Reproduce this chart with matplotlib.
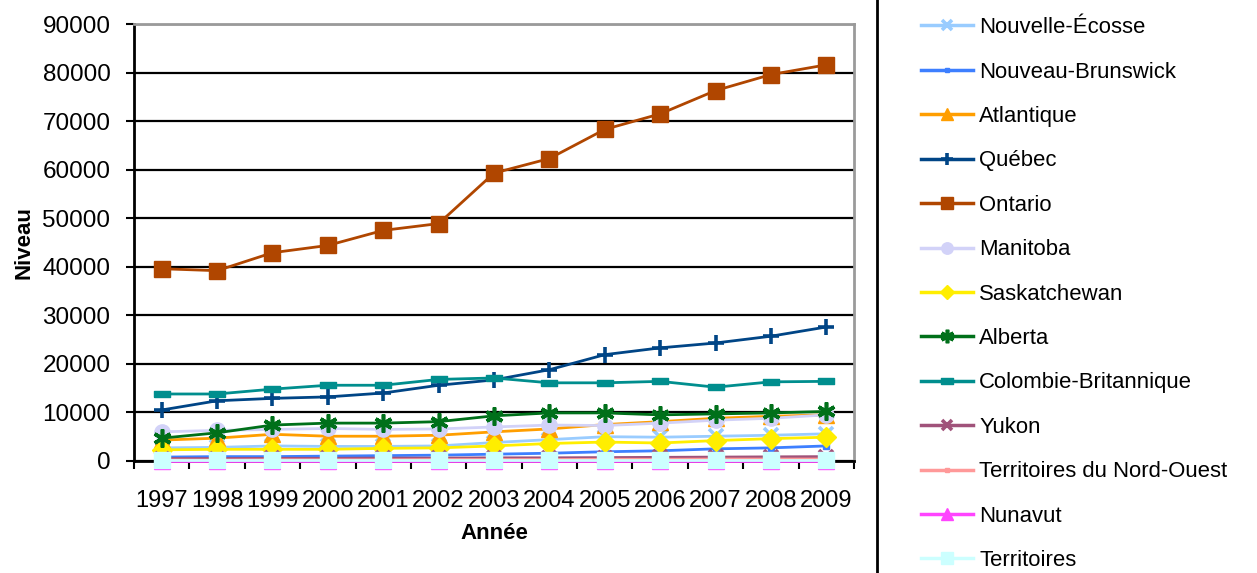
import numpy as np
import matplotlib.pyplot as plt
from matplotlib.lines import Line2D

plt.rcParams['font.family'] = ['Liberation Sans', 'DejaVu Sans']

years = ['1997', '1998', '1999', '2000', '2001', '2002', '2003',
         '2004', '2005', '2006', '2007', '2008', '2009']

nouvelle_ecosse = [2700, 2800, 3100, 3000, 3000, 3100, 3800, 4400, 5000, 4900, 5100, 5300, 5600]
nouveau_brunswick = [800, 900, 900, 1000, 1100, 1200, 1400, 1600, 1900, 2100, 2500, 2700, 3100]
atlantique = [4300, 4700, 5500, 5100, 5100, 5300, 6000, 6600, 7500, 8100, 8800, 9200, 9500]
quebec = [10500, 12400, 12900, 13200, 14000, 15600, 16700, 18800, 21900, 23300, 24300, 25700, 27600]
ontario = [39600, 39200, 42900, 44400, 47500, 48900, 59300, 62300, 68300, 71500, 76300, 79600, 81600]
manitoba = [6000, 6300, 6500, 6700, 6500, 6600, 7000, 7400, 7300, 7800, 8400, 8800, 9500]
saskatchewan = [2300, 2400, 2400, 2400, 2600, 2700, 3100, 3600, 3900, 3700, 4200, 4600, 4900]
alberta = [4700, 5800, 7400, 7800, 7800, 8100, 9300, 9900, 9900, 9500, 9700, 9900, 10200]
colombie_britannique = [13800, 13800, 14800, 15600, 15600, 16800, 17100, 16100, 16100, 16400, 15200, 16300, 16400]
yukon = [500, 500, 550, 550, 600, 600, 650, 650, 700, 750, 800, 850, 900]
tno = [200, 200, 250, 250, 250, 300, 300, 300, 350, 350, 400, 400, 400]
nunavut = [50, 50, 50, 50, 50, 50, 50, 50, 50, 50, 50, 50, 50]
territoires = [200, 200, 200, 200, 200, 200, 200, 200, 200, 200, 200, 200, 200]

# horizontal bar marker for Colombie-Britannique
bar_marker = [(-1, -0.45), (1, -0.45), (1, 0.45), (-1, 0.45), (-1, -0.45)]

series = [
    ('Nouvelle-Écosse', nouvelle_ecosse, '#99ccff', 'x', 10),
    ('Nouveau-Brunswick', nouveau_brunswick, '#3d7fff', 's', 4),
    ('Atlantique', atlantique, '#ff9e00', '^', 11),
    ('Québec', quebec, '#004586', '+', 12),
    ('Ontario', ontario, '#b04600', 's', 11),
    ('Manitoba', manitoba, '#d2d2f8', 'o', 11),
    ('Saskatchewan', saskatchewan, '#ffee00', 'D', 10),
    ('Alberta', alberta, '#00701a', (6, 2, 0), 13),
    ('Colombie-Britannique', colombie_britannique, '#008e8e', bar_marker, 11),
    ('Yukon', yukon, '#a0527a', 'x', 10),
    ('Territoires du Nord-Ouest', tno, '#ff9999', 's', 4),
    ('Nunavut', nunavut, '#ff44ff', '^', 11),
    ('Territoires', territoires, '#ccffff', 's', 12),
]

fig = plt.figure(figsize=(12.57, 5.73), dpi=100)
ax = fig.add_axes([0.1066, 0.1955, 0.5728, 0.7625])

x = np.arange(len(years))
handles = []
for name, vals, color, marker, ms in series:
    mew = 2.6 if marker in ('x', '+') or isinstance(marker, tuple) else 1
    ax.plot(x, vals, color=color, lw=2, marker=marker, ms=ms,
            mfc=color, mec=color, mew=mew, clip_on=False, zorder=3)
    handles.append(Line2D([], [], color=color, lw=2.5, marker=marker,
                          ms=ms * 0.75, mfc=color, mec=color, mew=mew))

ax.set_xlim(-0.5, len(years) - 0.5)
ax.set_ylim(0, 90000)
ax.set_yticks(np.arange(0, 90001, 10000))
ax.set_xticks(x)
ax.set_xticklabels(years)
ax.set_xticks(np.arange(-0.5, len(years)), minor=True)
ax.tick_params(axis='x', which='major', length=0, pad=21, labelsize=17)
ax.tick_params(axis='x', which='minor', length=6, width=1.5, direction='out')
ax.tick_params(axis='y', length=6, width=1.5, pad=11, labelsize=17.5)

ax.yaxis.grid(True, color='black', lw=1.6)
ax.set_axisbelow(True)
for side in ('left', 'bottom'):
    ax.spines[side].set_color('black')
    ax.spines[side].set_linewidth(2)
for side in ('top', 'right'):
    ax.spines[side].set_color('#9a9a9a')
    ax.spines[side].set_linewidth(2)

ax.set_ylabel('Niveau', fontsize=16, fontweight='bold', va='center')
ax.yaxis.set_label_coords(-0.153, 0.5)
ax.set_xlabel('Année', fontsize=16, fontweight='bold', va='center')
ax.xaxis.set_label_coords(0.5, -0.166)

# legend panel with its left border
fig.add_artist(Line2D([877 / 1257, 877 / 1257], [0, 1], color='black', lw=2,
                      transform=fig.transFigure))
fig.legend(handles, [s[0] for s in series], loc='upper left',
           bbox_to_anchor=(921 / 1257, 0.97), frameon=False, fontsize=15.9,
           handlelength=2.35, handletextpad=0.28, labelspacing=1.06,
           borderpad=0, borderaxespad=0)

fig.savefig('out.png', dpi=100)
